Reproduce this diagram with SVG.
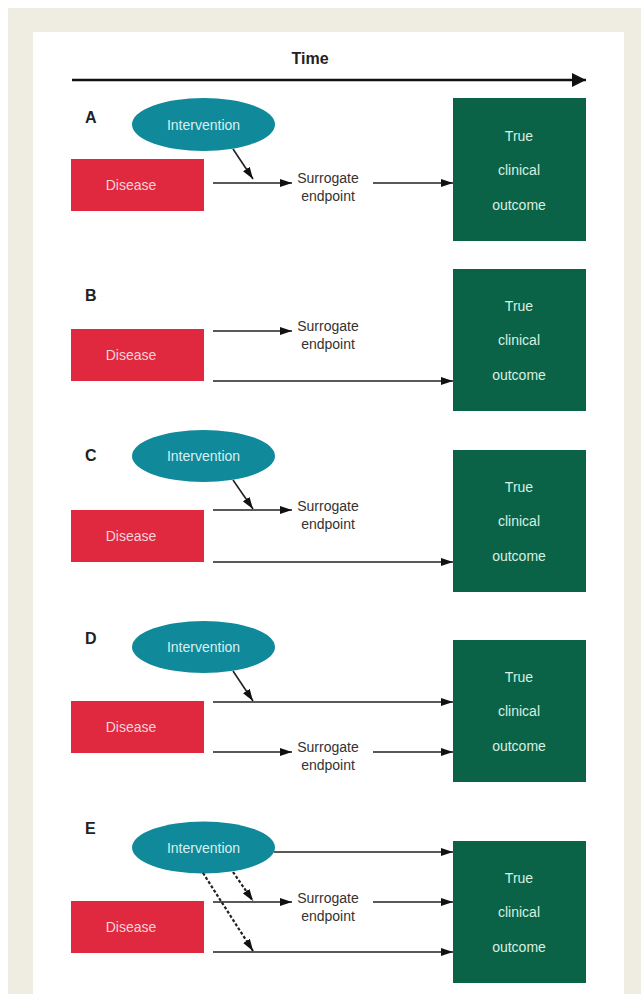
<svg xmlns="http://www.w3.org/2000/svg" width="641" height="994" viewBox="0 0 641 994">
<style>
text{font-family:"Liberation Sans",Arial,sans-serif}
.lbl{font-size:16px;font-weight:bold;fill:#222}
.dis{fill:#e0283f}
.dt{font-size:14px;fill:#f6d3d9;text-anchor:middle}
.int{fill:#10899a}
.it{font-size:14px;fill:#d7f0f2;text-anchor:middle}
.out{fill:#0a6346}
.ot{font-size:14px;fill:#d8efe2;text-anchor:middle}
.st{font-size:14px;fill:#333;text-anchor:middle}
.ar{stroke:#222;stroke-width:1.6;fill:none;marker-end:url(#ah)}
.da{stroke:#222;stroke-width:2.2;stroke-dasharray:3 2;fill:none;marker-end:url(#ah)}
</style>
<defs>
<marker id="ah" viewBox="0 0 12 8" refX="12" refY="4" markerWidth="12" markerHeight="8" markerUnits="userSpaceOnUse" orient="auto">
<path d="M0,0 L12,4 L0,8 z" fill="#111"/>
</marker>
<marker id="ahT" viewBox="0 0 14 14" refX="14" refY="7" markerWidth="14" markerHeight="14" markerUnits="userSpaceOnUse" orient="auto">
<path d="M0,0 L14,7 L0,14 z" fill="#111"/>
</marker>
</defs>
<rect width="641" height="994" fill="#ffffff"/>
<rect x="8" y="8" width="633" height="986" fill="#efece2"/>
<rect x="33" y="32" width="591" height="962" fill="#ffffff"/>

<g id="time">
<text x="310" y="64" font-size="16" font-weight="bold" fill="#222" text-anchor="middle">Time</text>
<line x1="72" y1="80" x2="586" y2="80" stroke="#111" stroke-width="2.4" marker-end="url(#ahT)"/>
</g>

<!-- Panel A -->
<g id="A-label"><text class="lbl" x="85" y="123">A</text></g>
<g id="A-intervention"><ellipse class="int" cx="203.5" cy="124.5" rx="71.5" ry="26.5"/><text class="it" x="203.5" y="129.5">Intervention</text></g>
<g id="A-disease"><rect class="dis" x="71" y="159" width="133" height="52"/><text class="dt" x="131" y="190">Disease</text></g>
<g id="A-surrogate"><text class="st" x="328" y="183">Surrogate</text><text class="st" x="328" y="201">endpoint</text></g>
<g id="A-outcome"><rect class="out" x="453" y="98" width="133" height="143"/><text class="ot" x="519" y="141">True</text><text class="ot" x="519" y="175">clinical</text><text class="ot" x="519" y="210">outcome</text></g>

<!-- Panel B -->
<g id="B-label"><text class="lbl" x="85" y="301">B</text></g>
<g id="B-disease"><rect class="dis" x="71" y="329" width="133" height="52"/><text class="dt" x="131" y="360">Disease</text></g>
<g id="B-surrogate"><text class="st" x="328" y="331">Surrogate</text><text class="st" x="328" y="349">endpoint</text></g>
<g id="B-outcome"><rect class="out" x="453" y="269" width="133" height="142"/><text class="ot" x="519" y="311">True</text><text class="ot" x="519" y="345">clinical</text><text class="ot" x="519" y="380">outcome</text></g>

<!-- Panel C -->
<g id="C-label"><text class="lbl" x="85" y="461">C</text></g>
<g id="C-intervention"><ellipse class="int" cx="203.5" cy="456" rx="71.5" ry="26"/><text class="it" x="203.5" y="461">Intervention</text></g>
<g id="C-disease"><rect class="dis" x="71" y="510" width="133" height="52"/><text class="dt" x="131" y="541">Disease</text></g>
<g id="C-surrogate"><text class="st" x="328" y="511">Surrogate</text><text class="st" x="328" y="529">endpoint</text></g>
<g id="C-outcome"><rect class="out" x="453" y="450" width="133" height="142"/><text class="ot" x="519" y="492">True</text><text class="ot" x="519" y="526">clinical</text><text class="ot" x="519" y="561">outcome</text></g>

<!-- Panel D -->
<g id="D-label"><text class="lbl" x="85" y="644">D</text></g>
<g id="D-intervention"><ellipse class="int" cx="203.5" cy="647" rx="71.5" ry="26"/><text class="it" x="203.5" y="652">Intervention</text></g>
<g id="D-disease"><rect class="dis" x="71" y="701" width="133" height="52"/><text class="dt" x="131" y="732">Disease</text></g>
<g id="D-surrogate"><text class="st" x="328" y="752">Surrogate</text><text class="st" x="328" y="770">endpoint</text></g>
<g id="D-outcome"><rect class="out" x="453" y="640" width="133" height="142"/><text class="ot" x="519" y="682">True</text><text class="ot" x="519" y="716">clinical</text><text class="ot" x="519" y="751">outcome</text></g>

<!-- Panel E -->
<g id="E-label"><text class="lbl" x="85" y="834">E</text></g>
<g id="E-intervention"><ellipse class="int" cx="203.5" cy="847.5" rx="71.5" ry="26"/><text class="it" x="203.5" y="852.5">Intervention</text></g>
<g id="E-disease"><rect class="dis" x="71" y="901" width="133" height="52"/><text class="dt" x="131" y="932">Disease</text></g>
<g id="E-surrogate"><text class="st" x="328" y="903">Surrogate</text><text class="st" x="328" y="921">endpoint</text></g>
<g id="E-outcome"><rect class="out" x="453" y="841" width="133" height="142"/><text class="ot" x="519" y="883">True</text><text class="ot" x="519" y="917">clinical</text><text class="ot" x="519" y="952">outcome</text></g>

<g id="connectors">
<!-- A -->
<line class="ar" x1="213" y1="183" x2="292" y2="183"/>
<line class="ar" x1="233" y1="149" x2="253" y2="179"/>
<line class="ar" x1="373" y1="183" x2="453" y2="183"/>
<!-- B -->
<line class="ar" x1="213" y1="331" x2="292" y2="331"/>
<line class="ar" x1="213" y1="381" x2="453" y2="381"/>
<!-- C -->
<line class="ar" x1="213" y1="510" x2="292" y2="510"/>
<line class="ar" x1="233" y1="480" x2="253" y2="509"/>
<line class="ar" x1="213" y1="562" x2="453" y2="562"/>
<!-- D -->
<line class="ar" x1="213" y1="702" x2="453" y2="702"/>
<line class="ar" x1="233" y1="671" x2="253" y2="701"/>
<line class="ar" x1="213" y1="752" x2="292" y2="752"/>
<line class="ar" x1="373" y1="752" x2="453" y2="752"/>
<!-- E -->
<line class="ar" x1="274" y1="852" x2="453" y2="852"/>
<line class="ar" x1="213" y1="902" x2="292" y2="902"/>
<line class="ar" x1="373" y1="902" x2="453" y2="902"/>
<line class="ar" x1="213" y1="952" x2="453" y2="952"/>
<line class="da" x1="233" y1="872" x2="253" y2="901"/>
<line class="da" x1="203" y1="873" x2="253" y2="951"/>
</g>
</svg>
